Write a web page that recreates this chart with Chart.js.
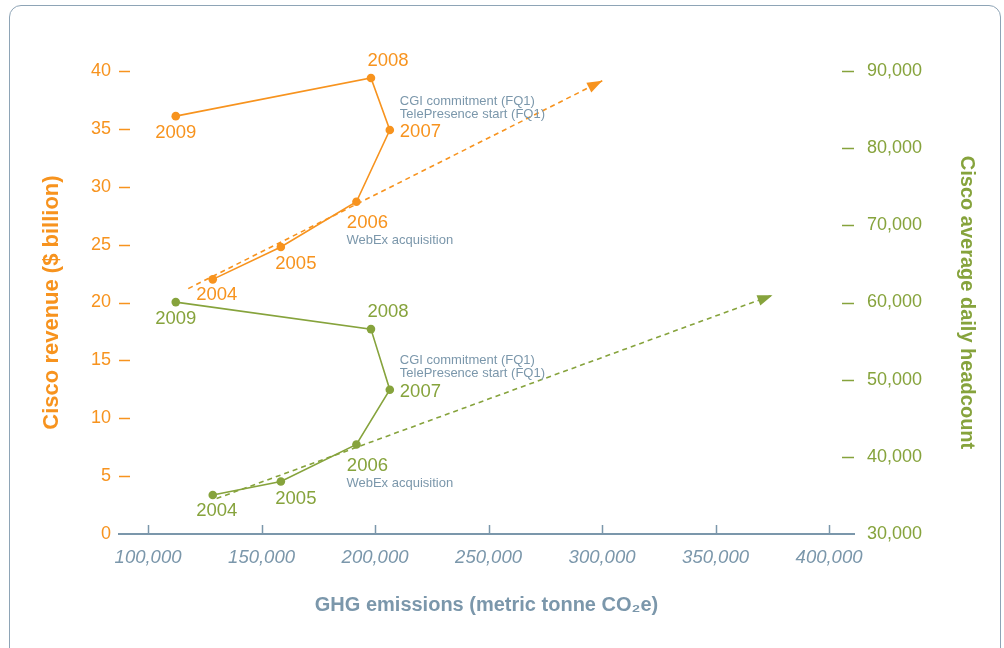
<!DOCTYPE html>
<html>
<head>
<meta charset="utf-8">
<script src="https://cdn.jsdelivr.net/npm/chart.js@4/dist/chart.umd.min.js"></script>
<style>
    body { margin: 0; background: #fff; }
    #wrap { position: relative; width: 1004px; height: 648px; overflow: hidden; }
    #card {
        position: absolute; left: 9px; top: 5px; width: 992px; height: 700px;
        border: 1.5px solid #8ea4b6; border-radius: 12px; box-sizing: border-box;
    }
    #chart { position: absolute; left: 0; top: 0; }
</style>
</head>
<body>
<div id="wrap">
    <div id="card"></div>
    <canvas id="chart" width="1004" height="648"></canvas>
</div>
<script>
// Cisco revenue / headcount vs GHG emissions

const years = ['2004', '2005', '2006', '2007', '2008', '2009'];
const ghgEmissions = [128500, 158500, 191800, 206500, 198200, 112200];
const revenue = [22.0, 24.8, 28.7, 34.9, 39.4, 36.1];
const headcount = [35050, 36800, 41600, 48700, 56550, 60050];

// dashed trend arrows (start, end)
const revenueTrendX = [117700, 300100];
const revenueTrendY = [21.2, 39.15];
const headcountTrendX = [130200, 375100];
const headcountTrendY = [34600, 60950];

const xTicks = [100000, 150000, 200000, 250000, 300000, 350000, 400000];
const revenueTicks = [0, 5, 10, 15, 20, 25, 30, 35, 40];
const headcountTicks = [30000, 40000, 50000, 60000, 70000, 80000, 90000];

// notes attached to a year
const notes = {
    '2006': ['WebEx acquisition'],
    '2007': ['CGI commitment (FQ1)', 'TelePresence start (FQ1)']
};

const ORANGE = '#f7931e';
const GREEN = '#86a33c';
const SLATE = '#7b97ab';
const FONT = '"Liberation Sans", Arial, sans-serif';

function toPoints(xs, ys) {
    return xs.map((x, i) => ({ x: x, y: ys[i] }));
}

// where each year label sits relative to its point
const labelPos = {
    '2004': { dx: 4, dy: 16, align: 'center' },
    '2005': { dx: 15, dy: 17, align: 'center' },
    '2006': { dx: 11, dy: 21, align: 'center' },
    '2007': { dx: 10, dy: 2, align: 'left' },
    '2008': { dx: 17, dy: -17, align: 'center' },
    '2009': { dx: 0, dy: 17, align: 'center' }
};

const decorPlugin = {
    id: 'decor',
    afterDatasetsDraw(chart) {
        const ctx = chart.ctx;
        const area = chart.chartArea;
        const xs = chart.scales.x;
        const yl = chart.scales.yRev;
        const yr = chart.scales.yHead;
        ctx.save();

        // x tick marks pointing up
        ctx.strokeStyle = SLATE;
        ctx.lineWidth = 1.5;
        xTicks.forEach(v => {
            const px = Math.round(xs.getPixelForValue(v)) + 0.5;
            ctx.beginPath();
            ctx.moveTo(px, area.bottom);
            ctx.lineTo(px, area.bottom - 9);
            ctx.stroke();
        });

        // y tick dashes
        ctx.lineWidth = 1.5;
        ctx.strokeStyle = ORANGE;
        revenueTicks.slice(1).forEach(v => {
            const py = Math.round(yl.getPixelForValue(v)) + 0.5;
            ctx.beginPath();
            ctx.moveTo(area.left, py);
            ctx.lineTo(area.left + 11, py);
            ctx.stroke();
        });
        ctx.strokeStyle = GREEN;
        headcountTicks.slice(1).forEach(v => {
            const py = Math.round(yr.getPixelForValue(v)) + 0.5;
            ctx.beginPath();
            ctx.moveTo(area.right - 12, py);
            ctx.lineTo(area.right, py);
            ctx.stroke();
        });

        // arrow heads on the trend lines
        [2, 3].forEach(di => {
            const meta = chart.getDatasetMeta(di);
            const p0 = meta.data[0], p1 = meta.data[1];
            const ang = Math.atan2(p1.y - p0.y, p1.x - p0.x);
            const len = 15, half = 5.5;
            ctx.fillStyle = chart.data.datasets[di].borderColor;
            ctx.beginPath();
            ctx.moveTo(p1.x, p1.y);
            ctx.lineTo(p1.x - len * Math.cos(ang) + half * Math.sin(ang), p1.y - len * Math.sin(ang) - half * Math.cos(ang));
            ctx.lineTo(p1.x - len * Math.cos(ang) - half * Math.sin(ang), p1.y - len * Math.sin(ang) + half * Math.cos(ang));
            ctx.closePath();
            ctx.fill();
        });

        // year labels and notes
        [0, 1].forEach(di => {
            const meta = chart.getDatasetMeta(di);
            const color = chart.data.datasets[di].borderColor;
            meta.data.forEach((pt, i) => {
                const yr = years[i];
                const lp = labelPos[yr];
                ctx.fillStyle = color;
                ctx.font = '18.5px ' + FONT;
                ctx.textAlign = lp.align;
                ctx.textBaseline = 'middle';
                ctx.fillText(yr, pt.x + lp.dx, pt.y + lp.dy);

                if (notes[yr]) {
                    ctx.fillStyle = SLATE;
                    ctx.font = '13px ' + FONT;
                    ctx.textAlign = 'left';
                    if (yr === '2006') {
                        ctx.fillText(notes[yr][0], pt.x - 10, pt.y + 39);
                    } else {
                        notes[yr].forEach((t, k) => {
                            ctx.fillText(t, pt.x + 10, pt.y - 29 + k * 13);
                        });
                    }
                }
            });
        });
        ctx.restore();
    }
};

new Chart(document.getElementById('chart'), {
    type: 'scatter',
    data: {
        datasets: [
            {
                label: 'Revenue',
                data: toPoints(ghgEmissions, revenue),
                yAxisID: 'yRev',
                showLine: true,
                borderColor: ORANGE,
                backgroundColor: ORANGE,
                borderWidth: 1.6,
                pointRadius: 4.3,
                pointBorderWidth: 0,
                order: 1
            },
            {
                label: 'Headcount',
                data: toPoints(ghgEmissions, headcount),
                yAxisID: 'yHead',
                showLine: true,
                borderColor: GREEN,
                backgroundColor: GREEN,
                borderWidth: 1.6,
                pointRadius: 4.3,
                pointBorderWidth: 0,
                order: 1
            },
            {
                label: 'Revenue trend',
                data: toPoints(revenueTrendX, revenueTrendY),
                yAxisID: 'yRev',
                showLine: true,
                borderColor: ORANGE,
                borderWidth: 1.6,
                borderDash: [5, 4],
                pointRadius: 0,
                order: 2
            },
            {
                label: 'Headcount trend',
                data: toPoints(headcountTrendX, headcountTrendY),
                yAxisID: 'yHead',
                showLine: true,
                borderColor: GREEN,
                borderWidth: 1.6,
                borderDash: [5, 4],
                pointRadius: 0,
                order: 2
            }
        ]
    },
    options: {
        responsive: false,
        animation: false,
        clip: false,
        layout: {
            padding: { top: 71, left: 0, right: 0, bottom: 0 }
        },
        plugins: {
            legend: { display: false },
            tooltip: { enabled: false }
        },
        scales: {
            x: {
                type: 'linear',
                position: 'bottom',
                min: 87200,
                max: 411000,
                afterBuildTicks: axis => {
                    axis.ticks = xTicks.map(v => ({ value: v }));
                },
                afterFit: axis => { axis.height = 114; },
                grid: { display: false, drawTicks: false },
                border: { display: true, color: SLATE, width: 2 },
                ticks: {
                    padding: 13,
                    color: SLATE,
                    maxRotation: 0,
                    autoSkip: false,
                    font: { family: FONT, size: 18.5, style: 'italic' },
                    callback: value => value.toLocaleString('en-US')
                },
                title: {
                    display: true,
                    text: 'GHG emissions (metric tonne CO\u2082e)',
                    color: SLATE,
                    font: { family: FONT, size: 20, weight: 'bold' },
                    padding: { top: 0, bottom: 31 }
                }
            },
            yRev: {
                type: 'linear',
                position: 'left',
                min: 0,
                max: 40,
                afterBuildTicks: axis => {
                    axis.ticks = revenueTicks.map(v => ({ value: v }));
                },
                afterFit: axis => { axis.width = 119; },
                grid: { display: false, drawTicks: false },
                border: { display: false },
                ticks: {
                    padding: 8,
                    color: ORANGE,
                    font: { family: FONT, size: 18 }
                },
                title: {
                    display: true,
                    text: 'Cisco revenue ($ billion)',
                    color: ORANGE,
                    font: { family: FONT, size: 22, weight: 'bold' },
                    padding: { top: 39, bottom: 0 }
                }
            },
            yHead: {
                type: 'linear',
                position: 'right',
                min: 30000,
                max: 90000,
                afterBuildTicks: axis => {
                    axis.ticks = headcountTicks.map(v => ({ value: v }));
                },
                afterFit: axis => { axis.width = 150; },
                grid: { display: false, drawTicks: false },
                border: { display: false },
                ticks: {
                    padding: 13,
                    color: GREEN,
                    font: { family: FONT, size: 18 },
                    callback: value => value.toLocaleString('en-US')
                },
                title: {
                    display: true,
                    text: 'Cisco average daily headcount',
                    color: GREEN,
                    font: { family: FONT, size: 20, weight: 'bold' },
                    padding: { top: 25, bottom: 0 }
                }
            }
        }
    },
    plugins: [decorPlugin]
});
</script>
</body>
</html>
